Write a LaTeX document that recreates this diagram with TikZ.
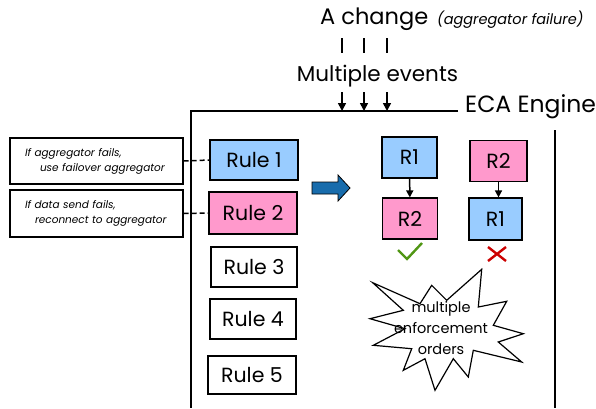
\documentclass[tikz,border=0pt]{standalone}
\usepackage{fontspec}
\setmainfont{Poppins}
\usetikzlibrary{arrows.meta}

\definecolor{ruleblue}{RGB}{153,204,255}
\definecolor{rulepink}{RGB}{255,153,204}
\definecolor{bigarrow}{RGB}{24,108,172}
\definecolor{okgreen}{RGB}{80,150,20}
\definecolor{badred}{RGB}{204,0,0}

\tikzset{
  rulebox/.style={draw, line width=1.2pt, minimum width=86pt, minimum height=40pt,
    inner sep=0pt, font=\fontsize{20.5}{20.5}\selectfont},
  rbox/.style={draw, line width=1.2pt, minimum width=55pt, minimum height=41pt,
    inner sep=0pt, font=\fontsize{20.5}{20.5}\selectfont},
  notebox/.style={draw, line width=1.2pt, minimum width=173pt, minimum height=46pt,
    inner sep=0pt, text width=143pt, align=left, font=\fontsize{10.5}{15}\selectfont\itshape},
  link/.style={dashed, dash pattern=on 5pt off 3pt, line width=1.5pt},
  order/.style={-{Triangle[length=7pt,width=7pt]}, line width=1.5pt},
  event/.style={-{Triangle[length=8pt,width=8pt]}, line width=1.6pt},
}

\begin{document}
\begin{tikzpicture}[x=1pt,y=-1pt]
  \useasboundingbox (0,0) rectangle (596,408);

  % incoming change
  \node[anchor=west, inner sep=0pt] (change) at (320,19) {\fontsize{22.5}{22.5}\selectfont A change};
  \node[anchor=west, inner sep=0pt] (cause) at (437,20) {\fontsize{14.5}{14.5}\selectfont\itshape (aggregator failure)};
  \draw[line width=2.5pt] (342,38) -- (342,53);
  \draw[line width=2.5pt] (364,38) -- (364,53);
  \draw[line width=2.5pt] (387,38) -- (387,53);
  \node[inner sep=0pt] (events) at (377.5,76) {\fontsize{21.5}{21.5}\selectfont Multiple events};

  % engine frame
  \coordinate (e1) at (342,111);
  \coordinate (e2) at (364,111);
  \coordinate (e3) at (387,111);
  \draw[line width=1.2pt] (458,111) -- (191,111) -- (191,408);
  \draw[line width=1.2pt] (555,130) -- (555,408);
  \node[anchor=west, inner sep=0pt] (engine) at (465,107) {\fontsize{23.5}{23.5}\selectfont ECA Engine};
  \draw[event] (342,92) -- (e1);
  \draw[event] (364,92) -- (e2);
  \draw[event] (387,92) -- (e3);

  % rules
  \node[rulebox, fill=ruleblue, minimum width=88pt] (rule1) at (254,160) {Rule 1};
  \node[rulebox, fill=rulepink, minimum width=88pt, minimum height=42pt] (rule2) at (253,213) {Rule 2};
  \node[rulebox] (rule3) at (254,267) {Rule 3};
  \node[rulebox] (rule4) at (253,319) {Rule 4};
  \node[rulebox, minimum width=88pt, minimum height=38pt] (rule5) at (252,375) {Rule 5};

  % rule descriptions
  \node[notebox] (note1) at (96.5,161) {If aggregator fails,\\\hspace*{15pt}use failover aggregator};
  \node[notebox, minimum height=47pt] (note2) at (96.5,213.5) {If data send fails,\\\hspace*{10pt}reconnect to aggregator};
  \draw[link] (note1.east) -- (rule1.west);
  \draw[link] (note2.east) -- (rule2.west);

  % big arrow
  \draw[fill=bigarrow, line width=0.8pt] (312,182) -- (338,182) -- (338,175) -- (350,188)
    -- (338,201) -- (338,194) -- (312,194) -- cycle;

  % good order
  \node[rbox, fill=ruleblue] (a1) at (409.5,157.5) {R1};
  \node[rbox, fill=rulepink] (a2) at (410,218.5) {R2};
  \draw[order] (a1) -- (a2);

  % bad order
  \node[rbox, fill=rulepink, minimum width=57pt] (b2) at (498.5,161) {R2};
  \node[rbox, fill=ruleblue, minimum width=53pt, minimum height=42pt] (b1) at (495.5,219) {R1};
  \draw[order] (b2.south) -- (b2.south |- b1.north);

  % verdicts
  \draw[okgreen, line width=2.4pt] (398,250) -- (407,259) -- (422,243);
  \draw[badred, line width=2.4pt] (488,247) -- (506,261) (506,247) -- (488,261);

  % burst
  \draw[line width=1.2pt, fill=white] (372.7,282.7) -- (420,303.7) -- (431.7,285.3) -- (446.7,300.3)
    -- (481.7,269.3) -- (478.3,307) -- (506.7,301.3) -- (493.3,325.3) -- (523.3,333.7)
    -- (498.3,342) -- (521.7,362) -- (473.3,350.3) -- (468.3,377) -- (453.3,358.7)
    -- (435,390.3) -- (425,358.7) -- (403.3,370.3) -- (411.7,348.7) -- (373.3,345.3)
    -- (405,328.7) -- (370,318.7) -- (403.3,310.3) -- cycle;
  \node[align=center, font=\fontsize{14.5}{21}\selectfont] (burst) at (441,328) {multiple\\enforcement\\orders};
\end{tikzpicture}
\end{document}
